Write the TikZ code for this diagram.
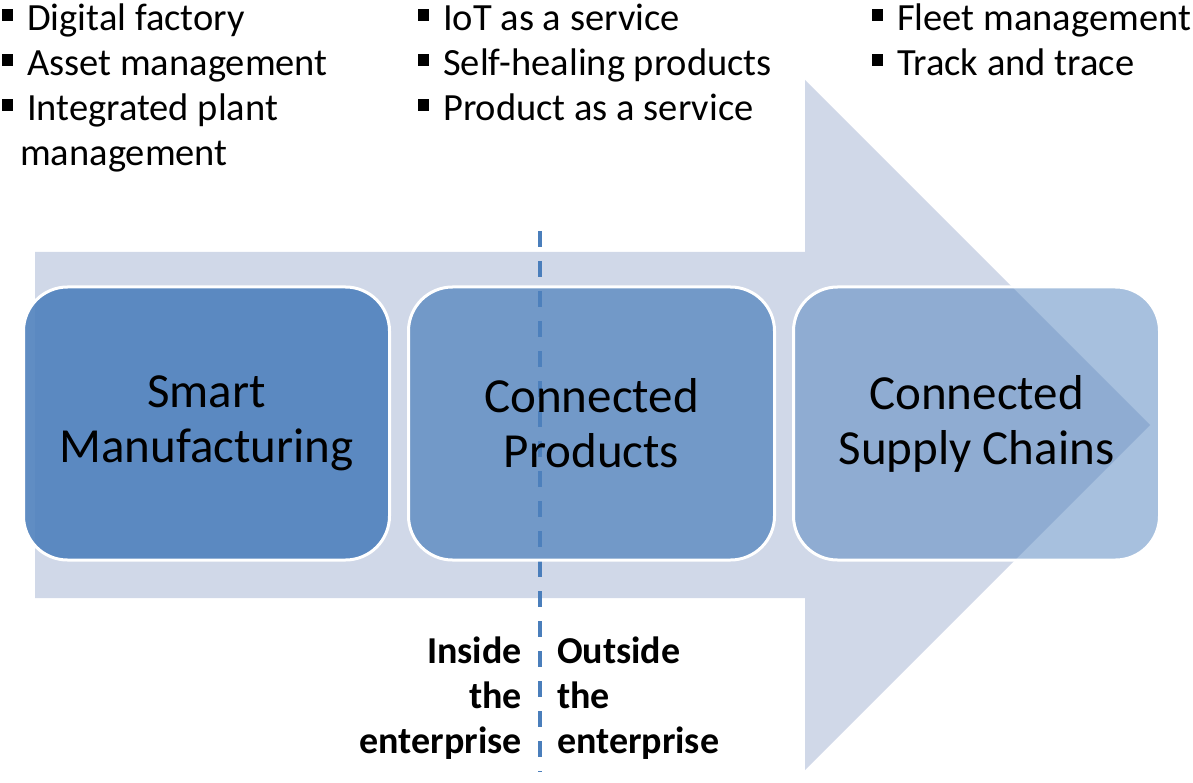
\documentclass[tikz,border=0pt]{standalone}
\usepackage{fontspec}
\setmainfont{Carlito}
\usetikzlibrary{positioning}

\definecolor{arrowgray}{HTML}{D0D8E8}
\definecolor{stageblue}{HTML}{4F81BD}
\definecolor{splitblue}{HTML}{4A7EBB}

\tikzset{
	stage/.style={draw=white, line width=3pt, fill=stageblue, text opacity=1, rounded corners=44pt,
		minimum width=366pt, minimum height=273pt, outer sep=0pt, align=center,
		font=\fontsize{49}{55}\selectfont},
	item/.style={anchor=base west, inner sep=0pt, font=\fontsize{38.5}{44}\selectfont},
	side/.style={inner sep=0pt, font=\bfseries\fontsize{38}{45}\selectfont}
}
\newcommand{\sqbullet}{\rule[0.27em]{0.29em}{0.29em}\hspace{0.36em}}

\begin{document}
\begin{tikzpicture}[x=1pt, y=-1pt]
	\useasboundingbox (0,0) rectangle (1193,783);
	% big arrow behind the stages
	\fill[arrowgray] (35,252) -- (805,252) -- (805,80) -- (1150,425) -- (805,770) -- (805,598) -- (35,598) -- cycle;
	% inside / outside split
	\coordinate (splittop) at (540,231);
	\coordinate (splitbot) at (540,772);
	\draw[splitblue, line width=4pt, dash pattern=on 16pt off 14pt] (splittop) -- (splitbot);
	% the three stages
	\node[stage, fill opacity=0.9] (smart) at (206.5,423.5) {Smart\\Manufacturing};
	\node[stage, fill opacity=0.72, right=19pt of smart] (products) {Connected\\Products};
	\node[stage, fill opacity=0.5, right=19pt of products] (chains) {Connected\\Supply Chains};
	% bullet lists on top
	\node[item] (digital) at (2,31) {\sqbullet Digital factory};
	\node[item] (asset) at (2,76) {\sqbullet Asset management};
	\node[item] (plant) at (2,121) {\sqbullet Integrated plant};
	\node[item] (plantb) at (20,166) {management};
	\node[item] (iot) at (418,31) {\sqbullet IoT as a service};
	\node[item] (healing) at (418,76) {\sqbullet Self-healing products};
	\node[item] (paas) at (418,121) {\sqbullet Product as a service};
	\node[item] (fleet) at (872,31) {\sqbullet Fleet management};
	\node[item] (track) at (872,76) {\sqbullet Track and trace};
	% labels either side of the split
	\node[side, align=right, anchor=base east] (inside) at (522,753) {Inside\\the\\enterprise};
	\node[side, align=left, anchor=base west] (outside) at (557,753) {Outside\\the\\enterprise};
\end{tikzpicture}
\end{document}
